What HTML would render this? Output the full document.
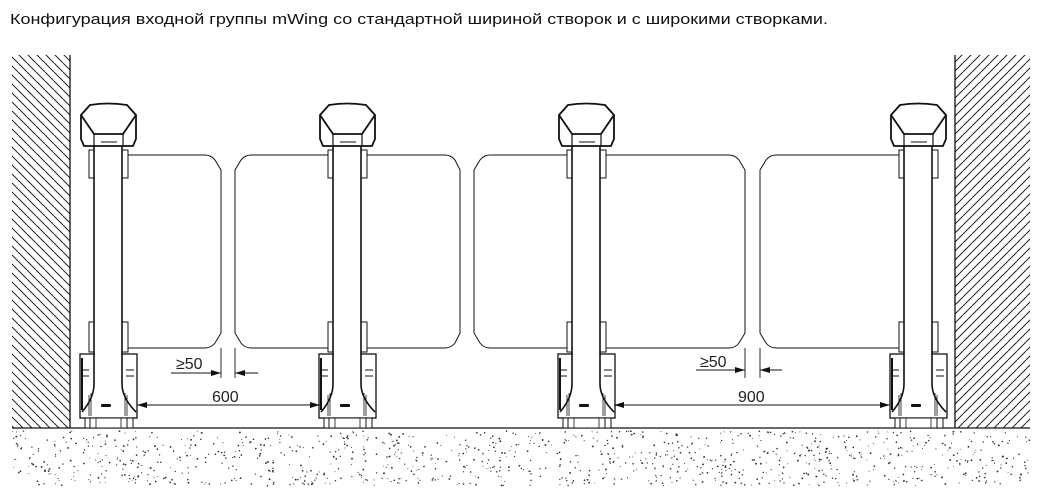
<!DOCTYPE html>
<html><head><meta charset="utf-8"><style>
html,body{margin:0;padding:0;background:#fff;overflow:hidden;}
svg{display:block;}
</style></head><body>
<svg id="s" width="1039" height="503" viewBox="0 0 1039 503" xmlns="http://www.w3.org/2000/svg">
<defs>
<pattern id="hl" patternUnits="userSpaceOnUse" width="9" height="9">
<line x1="0" y1="0" x2="9" y2="9" stroke="#222" stroke-width="1"/>
<line x1="-9" y1="0" x2="0" y2="9" stroke="#222" stroke-width="1"/>
<line x1="9" y1="0" x2="18" y2="9" stroke="#222" stroke-width="1"/>
</pattern>
<pattern id="hr" patternUnits="userSpaceOnUse" width="9" height="9">
<line x1="0" y1="9" x2="9" y2="0" stroke="#222" stroke-width="1"/>
<line x1="-9" y1="9" x2="0" y2="0" stroke="#222" stroke-width="1"/>
<line x1="9" y1="9" x2="18" y2="0" stroke="#222" stroke-width="1"/>
</pattern>
<g id="post" fill="#fff" stroke="#111">
<rect x="41" y="150" width="6" height="28" stroke-width="1"/>
<rect x="41" y="322" width="6" height="30" stroke-width="1"/>
<rect x="8" y="150" width="5" height="28" stroke-width="1"/>
<rect x="8" y="322" width="5" height="30" stroke-width="1"/>
<rect x="-1" y="354" width="57" height="64" stroke-width="1.3"/>
<line x1="1" y1="370" x2="8" y2="370" stroke-width="1"/>
<line x1="1" y1="376" x2="8" y2="376" stroke-width="1"/>
<line x1="45" y1="370" x2="53" y2="370" stroke-width="1"/>
<line x1="45" y1="376" x2="53" y2="376" stroke-width="1"/>
<line x1="1" y1="358" x2="1" y2="410" stroke-width="2"/>
<line x1="8" y1="395" x2="8" y2="416" stroke-width="0.8"/>
<line x1="10" y1="393" x2="10" y2="416" stroke-width="0.8"/>
<line x1="44" y1="393" x2="44" y2="416" stroke-width="0.8"/>
<line x1="46" y1="395" x2="46" y2="416" stroke-width="0.8"/>
<rect x="13.8" y="146" width="26.4" height="240" stroke="none"/>
<path d="M13,146 V384 Q13,398 1,412 M41,146 V384 Q41,398 55,412" fill="none" stroke-width="1.6"/>
<rect x="20" y="404" width="10" height="3" rx="1" fill="#111" stroke="none"/>
<g transform="translate(0,104)">
<path d="M9,1 Q27,-2 46,1 L55,11 V35 L52,42 H3 L0,35 V11 Z" stroke-width="1.8"/>
<path d="M0,11 L13,30 H42 L55,11" fill="none" stroke-width="1.8"/>
<line x1="13" y1="30" x2="13" y2="42" stroke-width="1.2"/>
<line x1="42" y1="30" x2="42" y2="42" stroke-width="1.2"/>
<line x1="20" y1="38" x2="36" y2="38" stroke-width="1"/>
</g>
<rect x="4" y="418" width="48" height="10" stroke-width="1"/>
<line x1="9" y1="418" x2="9" y2="428" stroke-width="1"/>
<line x1="15" y1="418" x2="15" y2="428" stroke-width="0.8"/>
<line x1="40" y1="418" x2="40" y2="428" stroke-width="0.8"/>
<line x1="46" y1="418" x2="46" y2="428" stroke-width="1"/>
</g>
<marker id="ar" viewBox="0 0 10 6" refX="10" refY="3" markerWidth="10" markerHeight="6" orient="auto-start-reverse" markerUnits="userSpaceOnUse">
<path d="M0,0 L10,3 L0,6 Z" fill="#111"/>
</marker>
</defs>
<text x="10" y="24" font-family="Liberation Sans, sans-serif" font-size="15" fill="#111" textLength="818" lengthAdjust="spacingAndGlyphs">Конфигурация входной группы mWing со стандартной шириной створок и с широкими створками.</text>

<rect x="12" y="55" width="58" height="373" fill="url(#hl)"/>
<line x1="70" y1="55" x2="70" y2="428" stroke="#111" stroke-width="1.3"/>
<rect x="955" y="55" width="75" height="373" fill="url(#hr)"/>
<line x1="955" y1="55" x2="955" y2="428" stroke="#111" stroke-width="1.3"/>

<line x1="12" y1="428" x2="1030" y2="428" stroke="#111" stroke-width="1.3"/>
<g id="dots" fill="#333"></g>

<g fill="#fff" stroke="#111" stroke-width="1">
<path d="M122,155 H205 Q211,155 215,160 L221,170 V333 L215,343 Q211,348 205,348 H122"/>
<path d="M334,155 H251 Q245,155 241,160 L235,170 V333 L241,343 Q245,348 251,348 H334"/>
<path d="M362,155 H445 Q451,155 455,160 L460,170 V333 L455,343 Q451,348 445,348 H362"/>
<path d="M573,155 H490 Q484,155 480,160 L474,170 V333 L480,343 Q484,348 490,348 H573"/>
<path d="M600,155 H729 Q735,155 739,160 L745,170 V333 L739,343 Q735,348 729,348 H600"/>
<path d="M904,155 H776 Q770,155 766,160 L760,170 V333 L766,343 Q770,348 776,348 H904"/>
</g>

<use href="#post" transform="translate(81,0)"/>
<use href="#post" transform="translate(320,0)"/>
<use href="#post" transform="translate(559,0)"/>
<use href="#post" transform="translate(891,0)"/>

<g stroke="#111" stroke-width="0.9" fill="none">
<line x1="221" y1="348" x2="221" y2="378"/>
<line x1="235" y1="348" x2="235" y2="378"/>
<line x1="171" y1="373" x2="221" y2="373" marker-end="url(#ar)"/>
<line x1="258" y1="373" x2="235" y2="373" marker-end="url(#ar)"/>
<line x1="137" y1="405" x2="320" y2="405" marker-start="url(#ar)" marker-end="url(#ar)"/>
<line x1="745" y1="348" x2="745" y2="378"/>
<line x1="760" y1="348" x2="760" y2="378"/>
<line x1="696" y1="370" x2="745" y2="370" marker-end="url(#ar)"/>
<line x1="782" y1="370" x2="760" y2="370" marker-end="url(#ar)"/>
<line x1="614" y1="405" x2="890" y2="405" marker-start="url(#ar)" marker-end="url(#ar)"/>
</g>
<g font-family="Liberation Sans, sans-serif" font-size="16" fill="#222">
<text x="176" y="369">≥50</text>
<text x="212" y="402">600</text>
<text x="700" y="367">≥50</text>
<text x="738" y="402">900</text>
</g>
</svg>
<script>
(function(){
var g=document.getElementById('dots');var s=12345;
function r(){s=(s*1103515245+12345)%2147483648;return s/2147483648;}
var h='';
for(var i=0;i<1100;i++){var x=12+r()*1018,y=431+r()*55;var rr=0.45+r()*0.5;
h+='<circle cx="'+x.toFixed(1)+'" cy="'+y.toFixed(1)+'" r="'+rr.toFixed(2)+'"/>';}
g.innerHTML=h;
})();
</script>
</body></html>
